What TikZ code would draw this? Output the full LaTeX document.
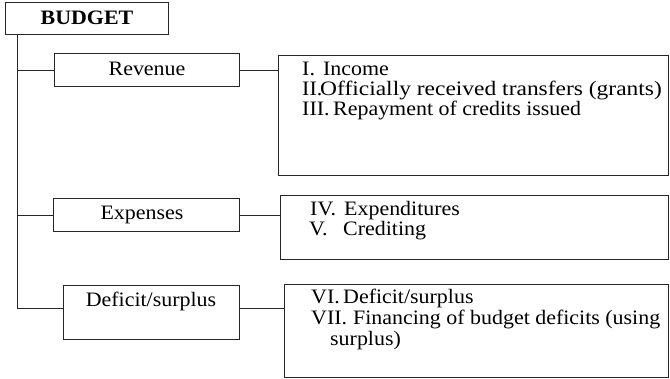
\documentclass[tikz,border=0pt]{standalone}
\usepackage{fontspec}
\setmainfont{Liberation Serif}[FakeStretch=1.07]
\begin{document}
\begin{tikzpicture}[x=1pt,y=-1pt,
  line/.style={line width=0.8pt, draw=black!85},
  box/.style={line, rectangle, inner sep=0pt, anchor=north west},
  lbl/.style={inner sep=0pt, font=\fontsize{20.5pt}{20pt}\selectfont},
  item/.style={lbl, anchor=base west}]
\useasboundingbox (0,0) rectangle (670,378);

% heading and category boxes
\node[box, minimum width=163pt, minimum height=32pt] (budget) at (5,2) {};
\node[box, minimum width=185pt, minimum height=33pt] (revenue) at (54,53) {};
\node[box, minimum width=186pt, minimum height=33pt] (expenses) at (53,198) {};
\node[box, minimum width=176pt, minimum height=54pt] (deficit) at (63,285) {};

% detail boxes
\node[box, minimum width=390pt, minimum height=120pt] (revList) at (278,55) {};
\node[box, minimum width=388pt, minimum height=64pt] (expList) at (280,195) {};
\node[box, minimum width=384pt, minimum height=93pt] (defList) at (284,284) {};

% box titles
\node[lbl, anchor=base] (budgetT) at (87,24) {\bfseries BUDGET};
\node[lbl, anchor=base] (revenueT) at (147,75) {Revenue};
\node[lbl, anchor=base] (expensesT) at (142,219) {Expenses};
\node[lbl, anchor=base] (deficitT) at (151,306) {Deficit/surplus};

% detail lines
\node[item] (r1) at (302,75) {\makebox[21pt][l]{I.}Income};
\node[item] (r2) at (302,95) {\makebox[18pt][l]{II.}\scalebox{1.07}[1]{Officially received transfers (grants)}};
\node[item] (r3) at (302,115) {\makebox[31pt][l]{III.}Repayment of credits issued};
\node[item] (e1) at (310,215) {\makebox[34pt][l]{IV.}Expenditures};
\node[item] (e2) at (309,235) {\makebox[34pt][l]{V.}Crediting};
\node[item] (d1) at (311,303) {\makebox[32pt][l]{VI.}Deficit/surplus};
\node[item] (d2) at (311,324) {\makebox[42pt][l]{VII.}Financing of budget deficits (using};
\node[item] (d3) at (330,345) {surplus)};

% trunk and branches
\coordinate (trunkEnd) at (17,308);
\draw[line] (budget.south -| trunkEnd) -- (trunkEnd);
\draw[line] (revenue.west -| trunkEnd) -- (revenue.west);
\draw[line] (expenses.west -| trunkEnd) -- (expenses.west);
\draw[line] (trunkEnd) -- (trunkEnd -| deficit.west);

% links to detail boxes
\draw[line] (revenue.east) -- (revenue.east -| revList.west);
\draw[line] (expenses.east) -- (expenses.east -| expList.west);
\draw[line] (trunkEnd -| deficit.east) -- (trunkEnd -| defList.west);
\end{tikzpicture}
\end{document}
